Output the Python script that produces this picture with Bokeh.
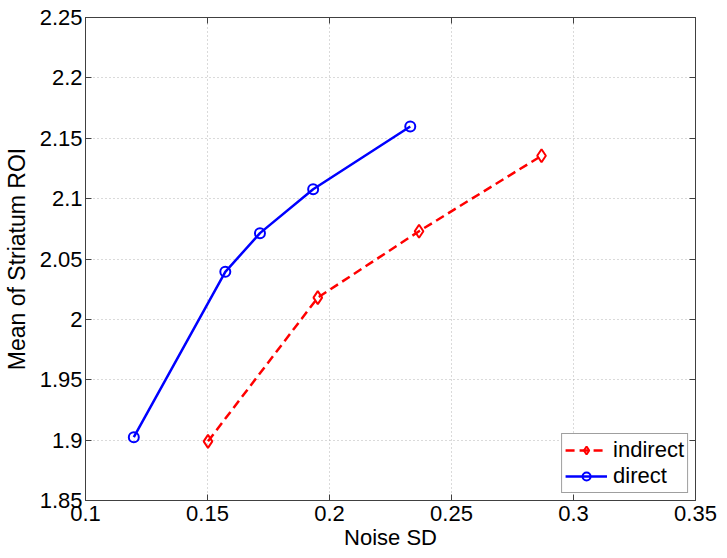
from bokeh.plotting import figure
from bokeh.models import (LinearAxis, FixedTicker, CustomJSTickFormatter, Range1d,
                          Legend, LegendItem)
from bokeh.embed import file_html
from bokeh.resources import INLINE

# ---- data ----
indirect_x = [0.1502, 0.1952, 0.2367, 0.2869]
indirect_y = [1.899, 2.018, 2.073, 2.1355]
direct_x = [0.1198, 0.1573, 0.1715, 0.1933, 0.2331]
direct_y = [1.9024, 2.0394, 2.0714, 2.1078, 2.1597]
x_ticks = [0.1, 0.15, 0.2, 0.25, 0.3, 0.35]
y_ticks = [1.85, 1.9, 1.95, 2.0, 2.05, 2.1, 2.15, 2.2, 2.25]
x_label = "Noise SD"
y_label = "Mean of Striatum ROI"
series_names = ["indirect", "direct"]

FONT = "Liberation Sans"
FS = "22px"
AX_COLOR = "#404040"

p = figure(width=727, height=558,
           x_range=Range1d(x_ticks[0], x_ticks[-1]),
           y_range=Range1d(y_ticks[0], y_ticks[-1]),
           output_backend="svg", toolbar_location=None,
           min_border_left=84, min_border_right=32,
           min_border_top=17, min_border_bottom=58)
p.background_fill_color = "white"
p.border_fill_color = "white"
p.outline_line_color = AX_COLOR
p.outline_line_width = 1

fmt = CustomJSTickFormatter(code="""
let s = tick.toFixed(2);
s = s.replace(/0+$/, '').replace(/\\.$/, '');
return s;
""")
blank = CustomJSTickFormatter(code="return '';")

for ax, ticks in ((p.xaxis[0], x_ticks), (p.yaxis[0], y_ticks)):
    ax.ticker = FixedTicker(ticks=ticks)
    ax.formatter = fmt
    ax.major_tick_in = 6
    ax.major_tick_out = 0
    ax.minor_tick_line_color = None
    ax.axis_line_color = AX_COLOR
    ax.major_tick_line_color = AX_COLOR
    ax.major_label_text_font = FONT
    ax.major_label_text_font_size = FS
    ax.major_label_text_color = "black"
    ax.axis_label_text_font = FONT
    ax.axis_label_text_font_style = "normal"
    ax.axis_label_text_color = "black"

p.xaxis[0].axis_label = x_label
p.xaxis[0].axis_label_text_font_size = FS
p.xaxis[0].major_label_standoff = 5
p.xaxis[0].axis_label_standoff = 1
p.yaxis[0].axis_label = y_label
p.yaxis[0].axis_label_text_font_size = "23px"
p.yaxis[0].major_label_standoff = 3
p.yaxis[0].axis_label_standoff = 7

# mirrored axes (box with ticks on all sides)
top = LinearAxis(ticker=FixedTicker(ticks=x_ticks), formatter=blank)
right = LinearAxis(ticker=FixedTicker(ticks=y_ticks), formatter=blank)
for ax in (top, right):
    ax.major_tick_in = 6
    ax.major_tick_out = 0
    ax.minor_tick_line_color = None
    ax.axis_line_color = AX_COLOR
    ax.major_tick_line_color = AX_COLOR
    ax.major_label_text_font_size = "1px"
    ax.major_label_standoff = 0
p.add_layout(top, "above")
p.add_layout(right, "right")

# dotted grid
p.xgrid.ticker = FixedTicker(ticks=x_ticks)
p.ygrid.ticker = FixedTicker(ticks=y_ticks)
for g in (p.xgrid[0], p.ygrid[0]):
    g.grid_line_color = "#b4b4b4"
    g.grid_line_dash = "1 3"
    g.grid_line_width = 1

# series
rl = p.line(indirect_x, indirect_y, line_color="#ff0000", line_width=2.5, line_dash="9 5")
rs = p.scatter(indirect_x, indirect_y, marker="diamond", size=13, fill_color=None,
               line_color="#ff0000", line_width=2)
bl = p.line(direct_x, direct_y, line_color="#0000ff", line_width=2.5)
bs = p.scatter(direct_x, direct_y, marker="circle", size=10, fill_color=None,
               line_color="#0000ff", line_width=2)

legend = Legend(items=[LegendItem(label=series_names[0], renderers=[rl, rs]),
                       LegendItem(label=series_names[1], renderers=[bl, bs])],
                location="bottom_right")
legend.border_line_color = AX_COLOR
legend.border_line_width = 1
legend.background_fill_color = "white"
legend.background_fill_alpha = 1
legend.padding = 3
legend.margin = 7
legend.spacing = 0
legend.glyph_width = 42
legend.glyph_height = 20
legend.label_height = 20
legend.label_standoff = 6
legend.label_text_font = FONT
legend.label_text_font_size = FS
legend.label_text_color = "black"
p.add_layout(legend)

open("out.html", "w").write(file_html(p, INLINE))
